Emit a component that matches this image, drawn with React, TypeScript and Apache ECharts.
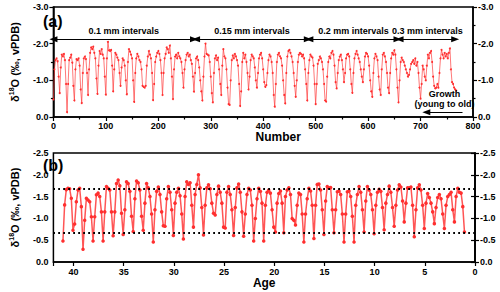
import React, { useEffect, useRef } from 'react';
import * as echarts from 'echarts';

// ---- Panel (a): δ18O vs sample number (one value every 2 numbers) ----
const topStep = 2;
const topValues = [
  -0.48, -1.3, -1.55, -1.6, -1.52, -1.1,
  -0.65, -1.35, -1.7, -1.65, -1.72, -1.55, -0.9,
  -0.13, -0.9, -1.55, -1.62, -1.7, -1.48, -0.85,
  -0.45, -1.3, -1.58, -1.55, -1.6, -1.4, -0.75,
  -0.38, -1.2, -1.6, -1.65, -1.58, -1.2,
  -0.6, -1.3, -1.75, -1.9, -1.85, -1.92, -1.75, -1.6, -1.05,
  -0.63, -1.4, -1.8, -1.72, -1.85, -1.7, -1.6, -1.1,
  -0.61, -1.6, -2.05, -1.82, -1.8, -1.83, -1.4,
  -0.7, -1.3, -1.75, -1.7, -1.62, -1.55, -1.2,
  -0.85, -1.35, -1.6, -1.55, -1.4, -1.0,
  -0.62, -1.5, -1.85, -1.78, -1.7, -1.6, -1.0,
  -0.41, -1.2, -1.6, -1.72, -1.65, -1.55, -1.5, -1.3,
  -0.85, -0.82, -0.8, -0.85, -1.4, -1.65, -1.8, -1.7, -1.6, -1.2,
  -0.46, -0.9, -1.5, -1.65, -1.75, -1.8, -1.72, -1.55, -1.2,
  -0.6, -1.2, -1.6, -1.72, -1.9, -1.85, -1.75, -1.95, -1.6, -1.1,
  -0.49, -1.3, -1.65, -1.7, -1.6, -1.75, -1.65, -1.6, -1.5, -1.2,
  -0.8, -1.3, -1.55, -1.7, -1.75, -1.65, -1.7, -1.55, -1.45, -1.1,
  -0.69, -1.2, -1.6, -1.65, -1.55, -1.35, -1.0, -0.7,
  -0.45, -1.1, -1.65, -2.0, -1.72, -1.7, -1.68, -1.5, -1.1, -0.65,
  -0.4, -1.2, -1.6, -1.68, -1.55, -1.62, -1.3, -0.9,
  -0.6, -1.4, -1.85, -1.65, -1.6, -1.3, -0.8, -0.35,
  -0.33, -1.0, -1.55, -1.68, -1.6, -1.72, -1.65, -1.55, -1.4, -0.9,
  -0.3, -0.7, -1.5, -1.75, -1.6, -1.7, -1.5, -1.2,
  -0.75, -1.1, -1.55, -1.7, -1.65, -1.6, -1.35, -1.0,
  -0.8, -1.2, -1.6, -1.7, -1.75, -1.6, -1.3, -0.95, -0.82, -0.87,
  -1.2, -1.55, -1.7, -1.65, -1.5, -1.2, -0.6,
  -0.28, -0.9, -1.5, -1.7, -1.75, -1.65, -1.6, -1.4, -1.0, -0.6,
  -0.37, -1.2, -1.65, -1.8, -1.83, -1.75, -1.65, -1.5, -1.2, -0.85,
  -0.55, -1.0, -1.5, -1.7, -1.75, -1.72, -1.65, -1.7, -1.6, -1.3, -0.9,
  -0.45, -1.2, -1.55, -1.7, -1.65, -1.62, -1.4, -0.9,
  -0.35, -0.9, -1.45, -1.55, -1.65, -1.6, -1.5, -1.3, -0.9, -0.45,
  -0.42, -1.1, -1.5, -1.65, -1.6, -1.75, -1.8, -1.7, -1.4, -0.95,
  -0.78, -1.2, -1.55, -1.65, -1.7, -1.55, -1.3,
  -0.95, -1.2, -1.6, -1.7, -1.72, -1.65, -1.3, -0.9,
  -0.66, -1.2, -1.6, -1.72, -1.8, -1.7, -1.6, -1.5, -1.3, -1.1,
  -0.95, -1.3, -1.65, -1.75, -1.72, -1.65, -1.4, -1.0, -0.7,
  -0.55, -1.2, -1.6, -1.72, -1.65, -1.55, -1.1, -0.75,
  -0.6, -1.3, -1.7, -1.75, -1.65, -1.5, -1.2, -0.8,
  -0.65, -1.2, -1.6, -1.75, -1.7, -1.82, -1.7, -1.3, -0.8,
  -0.4, -1.0, -1.5, -1.62, -1.55, -1.5, -1.4, -1.3, -1.2,
  -1.1, -1.15, -1.3, -1.45, -1.5, -1.55, -1.45, -1.6, -1.4, -1.5, -1.2, -0.8,
  -0.5, -0.9, -1.4, -1.3, -1.1, -1.0,
  -1.4, -1.7, -1.6, -1.75, -1.8, -1.5, -1.1, -0.85, -0.78, -0.8, -0.9, -0.8,
  -1.2, -1.6, -1.83, -1.7, -1.6, -1.75, -1.65, -1.72, -1.6, -1.75, -1.87, -1.3, -0.95, -0.9, -0.8, -0.75, -0.72,
];

const intervalLabels = ['0.1 mm intervals', '0.15 mm intervals', '0.2 mm intervals', '0.3 mm intervals'];
const intervalStarts = [0, 272, 488, 660];
const intervalEnds = [268, 485, 656, 766];
const intervalLevel = -2.12;

const growthLabel = 'Growth\n(young to old)';
const growthFrom = 711;
const growthTo = 780;
const growthLevel = -0.13;

// ---- Panel (b): δ18O vs age, six values per year, from age 41 down to 1 ----
const bottomStartAge = 41.05;
const bottomPerYear = 6;
const bottomYears = [
  [-0.48, -1.31, -1.66, -1.69, -1.68, -1.46],
  [-0.73, -0.87, -1.38, -1.65, -1.69, -1.27],
  [-0.29, -0.96, -1.46, -1.42, -1.38, -1.04],
  [-0.48, -1.04, -1.54, -1.58, -1.5, -1.15],
  [-0.48, -1.15, -1.73, -1.69, -1.65, -1.15],
  [-0.6, -1.15, -1.8, -1.88, -1.75, -1.12],
  [-0.63, -1.2, -1.84, -1.8, -1.62, -1.05],
  [-0.7, -1.45, -1.86, -1.82, -1.65, -1.05],
  [-0.73, -1.35, -1.8, -1.7, -1.5, -1.1],
  [-0.46, -1.2, -1.62, -1.72, -1.55, -1.15],
  [-0.83, -0.82, -1.45, -1.73, -1.6, -1.2],
  [-0.61, -1.35, -1.6, -1.69, -1.52, -1.1],
  [-0.53, -1.5, -1.84, -1.78, -1.82, -1.3],
  [-0.8, -1.55, -1.78, -2.0, -1.7, -1.25],
  [-0.62, -1.3, -1.7, -1.77, -1.68, -1.35],
  [-1.12, -1.08, -1.55, -1.74, -1.6, -1.35],
  [-0.8, -0.78, -1.6, -1.73, -1.55, -1.2],
  [-0.61, -1.25, -1.7, -1.79, -1.6, -1.15],
  [-0.59, -1.1, -1.55, -1.69, -1.65, -1.3],
  [-0.48, -1.0, -1.45, -1.69, -1.62, -1.35],
  [-0.48, -1.3, -1.6, -1.65, -1.58, -1.2],
  [-0.8, -0.69, -1.35, -1.57, -1.63, -1.35],
  [-0.67, -1.5, -1.65, -1.7, -1.55, -1.0],
  [-0.96, -0.85, -1.3, -1.58, -1.55, -1.1],
  [-0.46, -1.1, -1.45, -1.69, -1.63, -1.3],
  [-0.54, -1.3, -1.78, -1.79, -1.65, -1.2],
  [-0.63, -1.4, -1.73, -1.7, -1.71, -1.2],
  [-0.67, -1.2, -1.61, -1.63, -1.55, -1.1],
  [-0.46, -1.1, -1.61, -1.63, -1.5, -1.05],
  [-0.46, -1.3, -1.55, -1.73, -1.6, -1.2],
  [-0.69, -1.4, -1.73, -1.65, -1.55, -1.2],
  [-0.65, -1.3, -1.6, -1.67, -1.62, -1.25],
  [-0.74, -1.35, -1.55, -1.74, -1.6, -1.25],
  [-0.82, -1.3, -1.65, -1.77, -1.72, -1.4],
  [-0.92, -1.35, -1.7, -1.7, -1.72, -1.3],
  [-0.58, -1.2, -1.7, -1.77, -1.65, -1.3],
  [-0.77, -1.35, -1.57, -1.48, -1.35, -1.15],
  [-0.88, -1.25, -1.48, -1.55, -1.45, -1.1],
  [-0.77, -1.3, -1.5, -1.55, -1.6, -1.2],
  [-0.92, -1.5, -1.69, -1.6, -1.58, -1.27],
  [-0.69],
];
const bottomRefLines = [-1.67, -0.67];

const FONT = '"Liberation Sans", Arial, sans-serif';
const RED_LINE = 'rgba(255, 55, 55, 0.85)';
const RED_DOT = '#ff2f2f';

const axisLine = { show: true, lineStyle: { color: '#000', width: 1.5 } };
const tickStyle = { color: '#000', width: 1.2 };
const labelStyle = { color: '#000', fontSize: 9, fontWeight: 'bold' as const, fontFamily: FONT };
const yTitle = '{n|δ}{s|18}{n|O (‰, vPDB)}';
const yTitleStyle = {
  color: '#000',
  rich: {
    n: { fontSize: 11, fontWeight: 'bold', fontFamily: FONT, color: '#000', lineHeight: 14 },
    s: { fontSize: 7, fontWeight: 'bold', fontFamily: FONT, color: '#000', lineHeight: 14, padding: [0, 0, 7, 0] },
  },
};

function buildOption() {
  const topData = topValues.map((v, i) => [i * topStep, v]);
  const bottomFlat = bottomYears.flat();
  const bottomData = bottomFlat.map((v, i) => [bottomStartAge - i / bottomPerYear, v]);

  const intervalLines = intervalLabels.map((name, i) => [
    { name, coord: [intervalStarts[i], intervalLevel], symbol: 'triangle' },
    { coord: [intervalEnds[i], intervalLevel], symbol: 'triangle' },
  ]);
  const growthLine = [
    { name: growthLabel, coord: [growthFrom, growthLevel], symbol: 'triangle' },
    { coord: [growthTo, growthLevel], symbol: 'none' },
  ];

  const yAxisBase = (grid: number, min: number, interval: number, pos: 'left' | 'right', minor: boolean) => ({
    type: 'value',
    gridIndex: grid,
    min,
    max: 0,
    interval,
    inverse: true,
    position: pos,
    axisLine,
    axisTick: { show: true, inside: false, length: 4, lineStyle: tickStyle },
    minorTick: { show: minor, splitNumber: 2, length: 2.5, lineStyle: tickStyle },
    splitLine: { show: false },
    minorSplitLine: { show: false },
    axisLabel: { ...labelStyle, margin: 5, formatter: (v: number) => v.toFixed(1) },
  });

  return {
    animation: false,
    backgroundColor: '#fff',
    textStyle: { fontFamily: FONT },
    grid: [
      { left: 40, top: 7, width: 433, height: 110, show: true, borderColor: '#000', borderWidth: 1.5 },
      { left: 40, top: 153, width: 435, height: 109, show: true, borderColor: '#000', borderWidth: 1.5 },
    ],
    xAxis: [
      {
        type: 'value',
        gridIndex: 0,
        min: 0,
        max: 800,
        interval: 100,
        axisLine,
        axisTick: { show: true, length: 4, lineStyle: tickStyle },
        minorTick: { show: true, splitNumber: 2, length: 2.5, lineStyle: tickStyle },
        splitLine: { show: false },
        axisLabel: { ...labelStyle, margin: 4 },
        name: 'Number',
        nameLocation: 'middle',
        nameGap: 14,
        nameTextStyle: { color: '#000', fontSize: 12, fontWeight: 'bold', fontFamily: FONT, padding: [0, 0, 0, 30] },
      },
      {
        type: 'value',
        gridIndex: 1,
        min: 0,
        max: 42,
        interval: 5,
        inverse: true,
        axisLine,
        axisTick: { show: true, length: 4, lineStyle: tickStyle },
        splitLine: { show: false },
        axisLabel: { ...labelStyle, margin: 5, formatter: (v: number) => (v % 5 === 0 ? String(v) : '') },
        name: 'Age',
        nameLocation: 'middle',
        nameGap: 13,
        nameTextStyle: { color: '#000', fontSize: 12, fontWeight: 'bold', fontFamily: FONT },
      },
    ],
    yAxis: [
      {
        ...yAxisBase(0, -3, 1, 'left', true),
        name: yTitle,
        nameLocation: 'middle',
        nameGap: 22,
        nameRotate: 90,
        nameTextStyle: yTitleStyle,
      },
      yAxisBase(0, -3, 1, 'right', true),
      {
        ...yAxisBase(1, -2.5, 0.5, 'left', false),
        name: yTitle,
        nameLocation: 'middle',
        nameGap: 22,
        nameRotate: 90,
        nameTextStyle: yTitleStyle,
      },
      yAxisBase(1, -2.5, 0.5, 'right', false),
    ],
    graphic: [
      { type: 'text', left: 43, top: 13, style: { text: '(a)', font: `bold 16px ${FONT}`, fill: '#000' } },
      { type: 'text', left: 43, top: 157, style: { text: '(b)', font: `bold 16px ${FONT}`, fill: '#000' } },
    ],
    series: [
      {
        type: 'line',
        xAxisIndex: 0,
        yAxisIndex: 0,
        data: topData,
        symbol: 'circle',
        symbolSize: 2,
        showAllSymbol: true,
        lineStyle: { color: RED_LINE, width: 0.8 },
        itemStyle: { color: RED_DOT },
        markLine: {
          silent: true,
          symbolSize: [6, 8],
          lineStyle: { color: '#000', width: 1.2, type: 'solid' },
          label: {
            show: true,
            position: 'insideMiddleTop',
            distance: 3,
            formatter: '{b}',
            color: '#000',
            fontSize: 9,
            fontWeight: 'bold',
            fontFamily: FONT,
            lineHeight: 10,
          },
          data: [...intervalLines, growthLine],
        },
      },
      {
        type: 'line',
        xAxisIndex: 1,
        yAxisIndex: 2,
        data: bottomData,
        symbol: 'circle',
        symbolSize: 3.5,
        showAllSymbol: true,
        lineStyle: { color: RED_LINE, width: 1.5 },
        itemStyle: { color: RED_DOT },
        markLine: {
          silent: true,
          symbol: 'none',
          lineStyle: { color: '#000', width: 1.8, type: [1.8, 3.2] },
          label: { show: false },
          data: bottomRefLines.map((v) => ({ yAxis: v })),
        },
      },
    ],
  };
}

export default function App() {
  const ref = useRef<HTMLDivElement>(null);
  useEffect(() => {
    if (!ref.current) return;
    const chart = echarts.init(ref.current, null, { renderer: 'svg' });
    chart.setOption(buildOption() as any);
    return () => chart.dispose();
  }, []);
  return <div ref={ref} style={{ position: 'fixed', left: 0, top: 0, width: 500, height: 292 }} />;
}
